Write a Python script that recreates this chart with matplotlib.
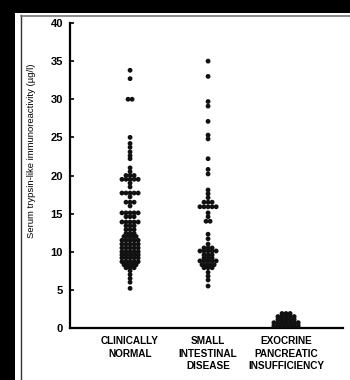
import numpy as np
import matplotlib
matplotlib.use("Agg")
import matplotlib.pyplot as plt
from matplotlib.patches import Rectangle
from matplotlib.lines import Line2D

plt.rcParams['font.family'] = ['Liberation Sans', 'DejaVu Sans']

categories = ["CLINICALLY\nNORMAL", "SMALL\nINTESTINAL\nDISEASE", "EXOCRINE\nPANCREATIC\nINSUFFICIENCY"]

# serum TLI values (ug/l) and number of dogs at each value (dots side by side)
normal_vals = [33.8, 32.7, 30.0, 25.0, 24.2, 23.7, 23.1, 22.6, 22.2,
               21.0, 20.5, 20.0, 19.5, 19.0, 18.5, 17.7, 17.2,
               16.5, 16.0, 15.1, 14.6, 13.9, 13.4, 12.9, 12.4, 12.0, 11.5,
               11.0, 10.5, 10.0, 9.6, 9.2, 8.7, 8.3, 7.9, 7.5, 7.0, 6.5, 6.0, 5.2]
normal_cnts = [1, 1, 2, 1, 1, 1, 1, 1, 1,
               1, 1, 3, 5, 1, 1, 5, 1,
               3, 1, 5, 3, 5, 3, 3, 3, 4, 5,
               5, 5, 5, 5, 5, 5, 4, 3, 1, 1, 1, 1, 1]

sid_vals = [35.0, 33.0, 29.7, 29.1, 27.1, 25.3, 24.8, 22.2, 20.8, 20.2,
            18.1, 17.6, 17.1, 16.5, 15.9, 15.1, 14.6, 14.0,
            12.3, 11.7, 11.0, 10.5, 10.1, 9.6, 9.2, 8.8, 8.3, 7.9,
            7.3, 6.8, 6.3, 5.5]
sid_cnts = [1, 1, 1, 1, 1, 1, 1, 1, 1, 1,
            1, 1, 1, 3, 5, 1, 1, 2,
            1, 1, 1, 3, 5, 3, 3, 5, 4, 3,
            1, 1, 1, 1]

epi_vals = [0.3, 0.7, 1.1, 1.5, 1.9]
epi_cnts = [7, 7, 5, 5, 3]

yticks = [0, 5, 10, 15, 20, 25, 30, 35, 40]

W, H = 350, 380
fig = plt.figure(figsize=(W / 100, H / 100), dpi=100, facecolor='black')

# white page with scanned frame lines
fig.patches.append(Rectangle((15 / W, 0), 1, 1 - 13 / H, transform=fig.transFigure,
                             facecolor='white', edgecolor='none', zorder=-10))
fig.lines.append(Line2D([21 / W, 21 / W], [0, 1 - 15 / H], transform=fig.transFigure,
                        color='#333333', lw=1.0, zorder=-5))
fig.lines.append(Line2D([21 / W, 1], [1 - 15.5 / H, 1 - 15.5 / H], transform=fig.transFigure,
                        color='#777777', lw=1.2, zorder=-5))

ax = fig.add_axes([70 / W, 1 - 328 / H, (343 - 70) / W, (328 - 23) / H])
ax.set_zorder(5)
ax.set_facecolor('none')

dx = 0.052
groups = [(normal_vals, normal_cnts), (sid_vals, sid_cnts), (epi_vals, epi_cnts)]
for i, (vals, cnts) in enumerate(groups):
    xs, ys = [], []
    for v, n in zip(vals, cnts):
        offs = (np.arange(n) - (n - 1) / 2) * dx
        xs.extend(i + offs)
        ys.extend([v] * n)
    ax.scatter(xs, ys, s=12, color='#111111', edgecolors='none', zorder=3)

ax.set_xlim(-0.77, 2.73)
ax.set_ylim(0, 40)
ax.set_yticks(yticks)
ax.set_yticklabels([str(t) for t in yticks], fontsize=8, fontweight='bold')
ax.set_xticks(range(len(categories)))
ax.set_xticklabels(categories, fontsize=7.2, fontweight='bold', linespacing=1.3)
ax.tick_params(axis='x', length=0, pad=6)
ax.tick_params(axis='y', direction='in', length=3, width=1.2, pad=5)
for s in ['top', 'right']:
    ax.spines[s].set_visible(False)
ax.spines['left'].set_linewidth(1.6)
ax.spines['bottom'].set_linewidth(1.6)

t = fig.text(32 / W, 1 - 151 / H, "Serum trypsin-like immunoreactivity (\u00b5g/l)",
             rotation=90, ha='center', va='center', fontsize=6.8)
t.set_zorder(6)

fig.savefig('out.png', dpi=100, facecolor='black')
